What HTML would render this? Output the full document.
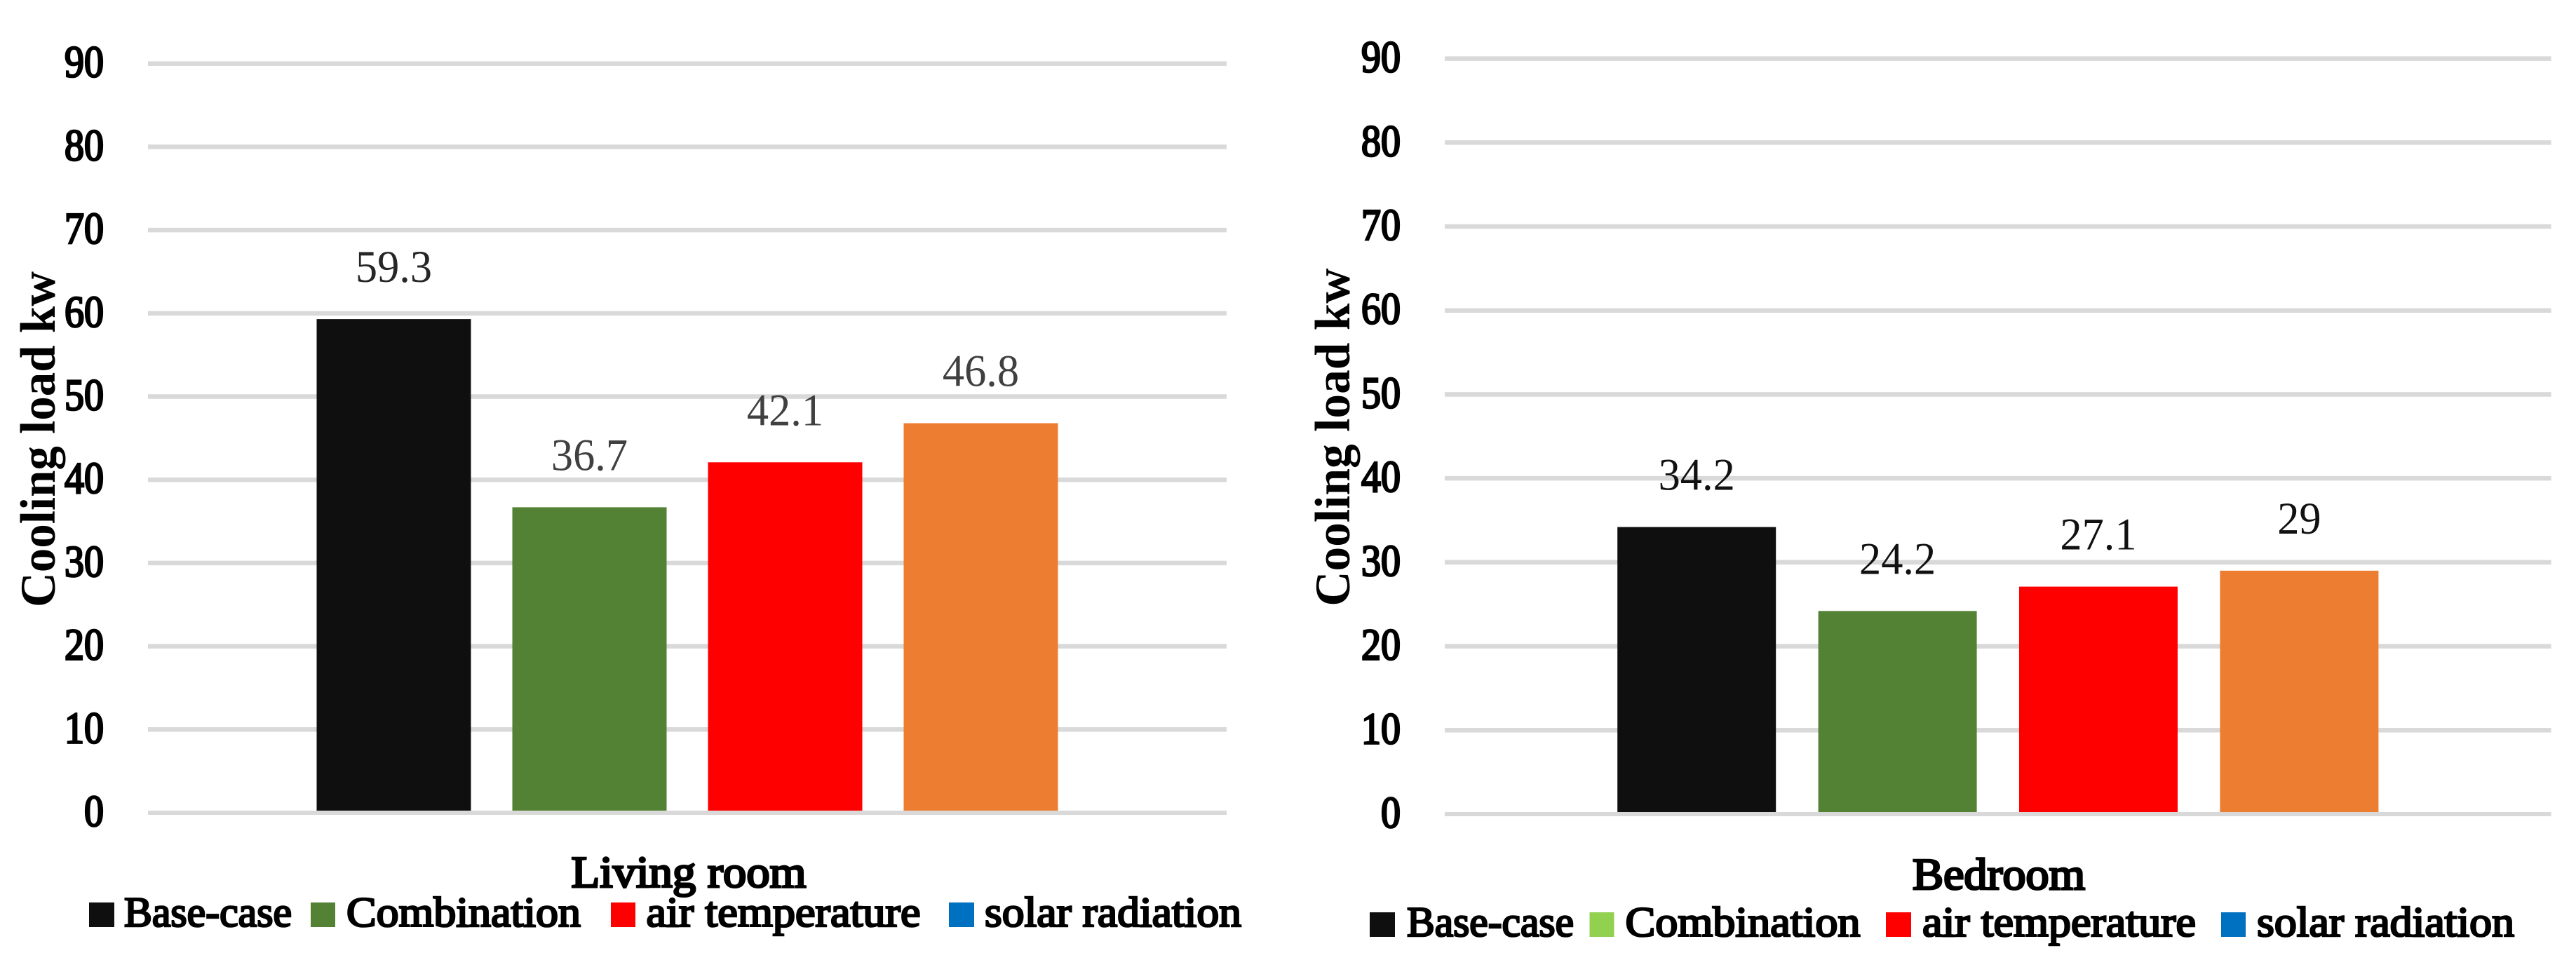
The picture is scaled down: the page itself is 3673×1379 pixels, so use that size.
<!DOCTYPE html>
<html lang="en">
<head>
<meta charset="utf-8">
<title>Cooling load comparison</title>
<style>
html,body{margin:0;padding:0;background:#fff;width:3673px;height:1379px;overflow:hidden}
svg{display:block}
text{font-family:"Liberation Serif",serif;fill:#000}
.tick{font-size:63px;stroke:#000;stroke-width:2.8px}
.val{font-size:65px}
.ytitle{font-size:71px;font-weight:700}
.xtitle{font-size:63px;stroke:#000;stroke-width:3px}
.leg{font-size:60px;stroke:#000;stroke-width:2.6px}
</style>
</head>
<body>
<svg id="chart" xmlns="http://www.w3.org/2000/svg" width="3673" height="1379" viewBox="0 0 3673 1379">
  <rect width="3673" height="1379" fill="#fff"/>
  <g id="left-panel">
    <g id="left-plot"></g>
    <text class="ytitle" transform="translate(78,626.5) rotate(-90)" text-anchor="middle" textLength="479" lengthAdjust="spacingAndGlyphs">Cooling load kw</text>
    <text class="xtitle" x="982" y="1265" text-anchor="middle" textLength="335" lengthAdjust="spacingAndGlyphs">Living room</text>
    <g>
      <g><rect x="127" y="1287" width="36" height="35" fill="#0f0f0f"/><text class="leg" x="177" y="1321" textLength="239" lengthAdjust="spacingAndGlyphs">Base-case</text></g>
      <g><rect x="443" y="1287" width="35" height="35" fill="#548235"/><text class="leg" x="494" y="1321" textLength="334" lengthAdjust="spacingAndGlyphs">Combination</text></g>
      <g><rect x="871" y="1287" width="35" height="35" fill="#ff0000"/><text class="leg" x="921.5" y="1321" textLength="391" lengthAdjust="spacingAndGlyphs">air temperature</text></g>
      <g><rect x="1353" y="1287" width="36" height="35" fill="#0070c0"/><text class="leg" x="1404" y="1321" textLength="366" lengthAdjust="spacingAndGlyphs">solar radiation</text></g>
    </g>
  </g>
  <g id="right-panel">
    <g id="right-plot"></g>
    <text class="ytitle" transform="translate(1924,623.6) rotate(-90)" text-anchor="middle" textLength="482" lengthAdjust="spacingAndGlyphs">Cooling load kw</text>
    <text class="xtitle" x="2850" y="1268" text-anchor="middle" textLength="246" lengthAdjust="spacingAndGlyphs">Bedroom</text>
    <g>
      <g><rect x="1953" y="1301" width="36" height="35" fill="#0f0f0f"/><text class="leg" x="2006" y="1335" textLength="238" lengthAdjust="spacingAndGlyphs">Base-case</text></g>
      <g><rect x="2266.5" y="1301" width="35" height="35" fill="#92d050"/><text class="leg" x="2317.5" y="1335" textLength="335" lengthAdjust="spacingAndGlyphs">Combination</text></g>
      <g><rect x="2689" y="1301" width="36" height="35" fill="#ff0000"/><text class="leg" x="2741" y="1335" textLength="390" lengthAdjust="spacingAndGlyphs">air temperature</text></g>
      <g><rect x="3167" y="1301" width="35" height="35" fill="#0070c0"/><text class="leg" x="3218" y="1335" textLength="367" lengthAdjust="spacingAndGlyphs">solar radiation</text></g>
    </g>
  </g>
</svg>
<script>
const seriesNames = ['base-case', 'combination', 'air-temperature', 'solar-radiation-unused'];
const yTickLabels = [0, 10, 20, 30, 40, 50, 60, 70, 80, 90];
const livingRoomValues = [59.3, 36.7, 42.1, 46.8];
const bedroomValues = [34.2, 24.2, 27.1, 29];
const barColors = ['#0f0f0f', '#548235', '#ff0000', '#ed7d31'];
const livingLabelColors = ['#262626', '#404040', '#404040', '#404040'];
const bedroomLabelColors = ['#111111', '#111111', '#111111', '#111111'];

const NS = 'http://www.w3.org/2000/svg';

function drawChart(groupId, prefix, values, labelColors, cfg) {
  const g = document.getElementById(groupId);
  const yScale = function (v) { return cfg.y0 - (v / 90) * (cfg.y0 - cfg.y90); };
  const xCenter = (cfg.x0 + cfg.x1) / 2;
  const xScale = function (i) { return xCenter + (i - (values.length - 1) / 2) * cfg.step; };

  yTickLabels.forEach(function (t) {
    if (t === 0) return;
    const line = document.createElementNS(NS, 'rect');
    
    
    line.setAttribute('x', cfg.x0);
    line.setAttribute('width', cfg.x1 - cfg.x0);
    line.setAttribute('y', yScale(t) - 3.25);
    line.setAttribute('height', 6.5);
    line.setAttribute('fill', '#d9d9d9');
    g.appendChild(line);
  });

  yTickLabels.forEach(function (t) {
    const s = String(t);
    const label = document.createElementNS(NS, 'text');
    
    
    label.setAttribute('class', 'tick');
    label.setAttribute('x', cfg.tickRight);
    label.setAttribute('y', yScale(t) + 19);
    label.setAttribute('text-anchor', 'end');
    label.setAttribute('textLength', s.length * 28);
    label.setAttribute('lengthAdjust', 'spacingAndGlyphs');
    label.textContent = s;
    g.appendChild(label);
  });

  values.forEach(function (v, i) {
    const cx = xScale(i);
    const top = yScale(v);
    const bar = document.createElementNS(NS, 'rect');
    
    
    bar.setAttribute('x', cx - cfg.barWidth / 2);
    bar.setAttribute('width', cfg.barWidth);
    bar.setAttribute('y', top);
    bar.setAttribute('height', Math.max(0, yScale(0) - top));
    bar.setAttribute('fill', barColors[i]);
    g.appendChild(bar);

    const val = document.createElementNS(NS, 'text');
    
    
    val.setAttribute('class', 'val');
    val.setAttribute('transform', 'translate(' + cx + ',' + (top - 53) + ') scale(0.96,1)');
    val.setAttribute('text-anchor', 'middle');
    val.style.fill = labelColors[i];
    val.textContent = String(v);
    g.appendChild(val);
  });

  const base = document.createElementNS(NS, 'rect');
  
  
  base.setAttribute('x', cfg.x0);
  base.setAttribute('width', cfg.x1 - cfg.x0);
  base.setAttribute('y', yScale(0) - 3);
  base.setAttribute('height', 6);
  base.setAttribute('fill', '#d9d9d9');
  g.appendChild(base);
}

drawChart('left-plot', 'living-room', livingRoomValues, livingLabelColors,
  { x0: 211, x1: 1749, y0: 1159, y90: 90.7, step: 279, barWidth: 220, tickRight: 148 });
drawChart('right-plot', 'bedroom', bedroomValues, bedroomLabelColors,
  { x0: 2060, x1: 3637.6, y0: 1161, y90: 83.6, step: 286.4, barWidth: 226, tickRight: 1997 });
</script>
</body>
</html>
